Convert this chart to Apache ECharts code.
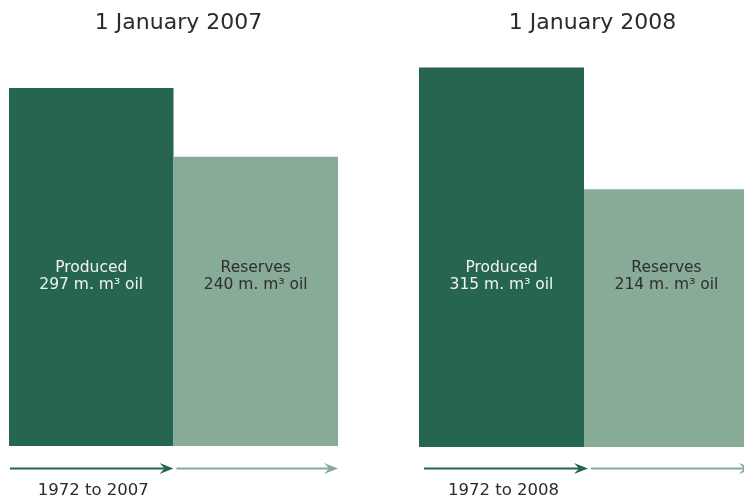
<!DOCTYPE html>
<html>
<head>
<meta charset="utf-8">
<script src="https://cdn.jsdelivr.net/npm/echarts@6/dist/echarts.min.js"></script>
<style>
  html, body { margin: 0; padding: 0; background: #ffffff; }
  #chart { width: 744px; height: 499px; }
</style>
</head>
<body>
<div id="chart"></div>
<script>
// Oil volumes (million m³) at the start of each year
const panelTitles = ['1 January 2007', '1 January 2008'];
const categories = ['Produced', 'Reserves'];
const values2007 = [297, 240];
const values2008 = [315, 214];
const periodLabels2007 = ['1972 to 2007', ''];
const periodLabels2008 = ['1972 to 2008', ''];

const DARK = '#266650';
const LIGHT = '#88ab98';
const FONT = 'DejaVu Sans, Verdana, sans-serif';
const Y_MAX = 330;
const PX_PER_UNIT = 1.205;
const GRID_H = Y_MAX * PX_PER_UNIT;

// Each panel: grid box in px and the width of one category band
const panels = [
  { left: 9, width: 329, band: 164.5, bottom: 446, labelMargin: 36, arrowShift: 0, titleShift: 5 },
  { left: 419, width: 325, band: 165, bottom: 447, labelMargin: 35, arrowShift: 4, titleShift: 8.5 }
];

const chart = echarts.init(document.getElementById('chart'), null, { renderer: 'canvas' });

function barData(values) {
  return values.map((v, i) => ({
    name: categories[i],
    value: [i, v],
    itemStyle: { color: i === 0 ? DARK : LIGHT },
    label: { color: i === 0 ? '#f2f2f2' : '#2e2e2e' }
  }));
}

// Numeric x axis holding category positions 0 and 1, so a band can run past the right edge
function xAxisFor(idx, labels) {
  const p = panels[idx];
  return {
    type: 'value',
    gridIndex: idx,
    min: -0.5,
    max: -0.5 + p.width / p.band,
    splitLine: { show: false },
    axisLine: { show: false },
    axisTick: { show: false },
    axisLabel: {
      customValues: [0],
      margin: p.labelMargin,
      color: '#2b2b2b',
      fontFamily: FONT,
      fontSize: 16.5,
      padding: [0, 0, 0, 4],
      formatter: v => labels[Math.round(v)] || ''
    }
  };
}

function yAxisFor(idx) {
  return {
    type: 'value',
    gridIndex: idx,
    min: 0,
    max: Y_MAX,
    show: false,
    splitLine: { show: false }
  };
}

function barSeries(idx, values, distance) {
  return {
    type: 'bar',
    xAxisIndex: idx,
    yAxisIndex: idx,
    barWidth: panels[idx].band,
    data: barData(values),
    silent: true,
    label: {
      show: true,
      position: 'insideBottom',
      distance: distance,
      fontFamily: FONT,
      fontSize: 15.5,
      lineHeight: 17,
      align: 'center',
      formatter: p => p.name + '\n' + p.value[1] + ' m. m³ oil'
    }
  };
}

chart.setOption({
  animation: false,
  backgroundColor: '#ffffff',
  grid: panels.map(p => ({ left: p.left, width: p.width, top: p.bottom - GRID_H, height: GRID_H })),
  xAxis: [xAxisFor(0, periodLabels2007), xAxisFor(1, periodLabels2008)],
  yAxis: [yAxisFor(0), yAxisFor(1)],
  series: [
    barSeries(0, values2007, 153),
    barSeries(1, values2008, 154)
  ]
});

// Panel titles and timeline arrows beneath the bars, positioned from the axes
function arrow(x0, x1, y, color) {
  return [
    { type: 'line', shape: { x1: x0, y1: y, x2: x1 - 6, y2: y },
      style: { stroke: color, lineWidth: 2.2 } },
    { type: 'polygon',
      shape: { points: [[x1, y], [x1 - 14, y - 5.5], [x1 - 9, y], [x1 - 14, y + 5.5]] },
      style: { fill: color } }
  ];
}

const elements = [];
[0, 1].forEach(idx => {
  const p = panels[idx];
  const finder = { xAxisIndex: idx, yAxisIndex: idx };
  const c0 = chart.convertToPixel(finder, [0, 0]);
  const c1 = chart.convertToPixel(finder, [1, 0]);
  const half = (c1[0] - c0[0]) / 2;
  const left = c0[0] - half, mid = c0[0] + half, right = c1[0] + half;
  const s = p.arrowShift;
  const y = 468.5;
  elements.push(...arrow(left + 1 + s, mid + s, y, DARK));
  elements.push(...arrow(mid + 3 + s, right + s, y, LIGHT));
  elements.push({
    type: 'text',
    style: {
      x: (left + right) / 2 + p.titleShift, y: 23,
      text: panelTitles[idx],
      align: 'center', verticalAlign: 'middle',
      font: '22px ' + FONT,
      fill: '#2b2b2b'
    }
  });
});
chart.setOption({ graphic: elements });
</script>
</body>
</html>
